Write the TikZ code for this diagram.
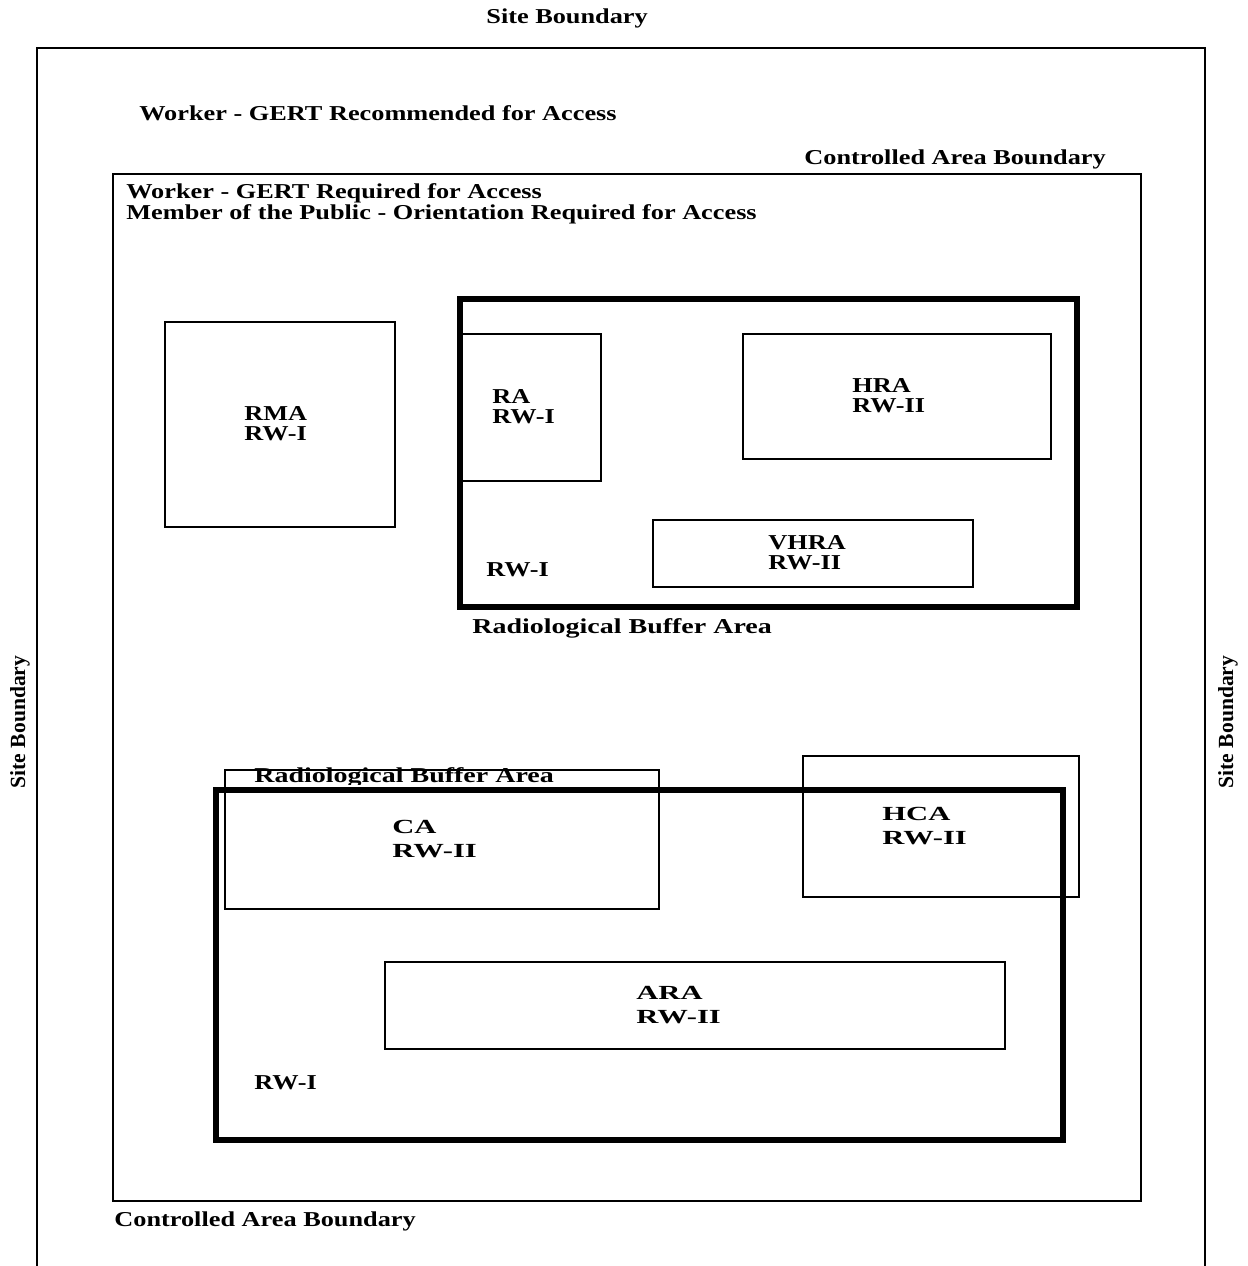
\documentclass[tikz,border=0pt]{standalone}
\usepackage{fontspec}
\setmainfont{Liberation Serif}
\newfontfamily\fwide[FakeStretch=1.24]{Liberation Serif}
\newfontfamily\fwider[FakeStretch=1.32]{Liberation Serif}
\newfontfamily\fbig[FakeStretch=1.53]{Liberation Serif}
\begin{document}
\begin{tikzpicture}[x=0.5pt,y=-0.5pt,
  thin box/.style={draw=black,line width=1pt},
  thick box/.style={draw=black,line width=2.6pt},
  freelabel/.style={inner sep=0pt,anchor=west,align=left,font=\fwide\bfseries\fontsize{10.6pt}{10.5pt}\selectfont},
  rbalabel/.style={inner sep=0pt,anchor=west,align=left,font=\fwider\bfseries\fontsize{10.6pt}{10.5pt}\selectfont},
  boxlabel/.style={inner sep=0pt,anchor=west,align=left,font=\fwide\bfseries\fontsize{10.6pt}{10pt}\selectfont},
  biglabel/.style={inner sep=0pt,anchor=west,align=left,font=\fbig\bfseries\fontsize{10pt}{12pt}\selectfont},
  sidelabel/.style={inner sep=0pt,anchor=center,rotate=90,font=\bfseries\fontsize{10.8pt}{10.5pt}\selectfont}]
\useasboundingbox[fill=white] (0,0) rectangle (1248,1266);
% site boundary (open at the bottom)
\coordinate (sbl) at (37,1266);
\coordinate (sbtl) at (37,48);
\coordinate (sbtr) at (1205,48);
\coordinate (sbr) at (1205,1266);
\draw[line width=1pt] (sbl) -- (sbtl) -- (sbtr) -- (sbr);
% controlled area boundary
\draw[thin box] (113,174) rectangle (1141,1201);
% upper area
\draw[thin box] (165,322) rectangle (395,527);
\draw[thin box] (462,334) rectangle (601,481);
\draw[thin box] (743,334) rectangle (1051,459);
\draw[thin box] (653,520) rectangle (973,587);
\draw[thick box] (460,299) rectangle (1077,607);
% lower area
\draw[thin box] (225,770) rectangle (659,909);
\draw[thin box] (803,756) rectangle (1079,897);
\draw[thin box] (385,962) rectangle (1005,1049);
\node[rbalabel] (rbalow) at (254,777) {Radiological Buffer Area};
\fill[white] (226,785) rectangle (658,789);
\draw[thick box] (216,790) rectangle (1063,1140);
% labels
\node[freelabel] (sbtop) at (486,18) {Site Boundary};
\node[sidelabel] (sbleft) at (20,722) {Site Boundary};
\node[sidelabel] (sbright) at (1228,722) {Site Boundary};
\node[freelabel] (rec) at (139,113) {Worker - GERT Recommended for Access};
\node[freelabel] (cabtop) at (804,159) {Controlled Area Boundary};
\node[freelabel] (req) at (126,204) {Worker - GERT Required for Access\\Member of the Public - Orientation Required for Access};
\node[boxlabel] (rma) at (244,424) {RMA\\RW-I};
\node[boxlabel] (ra) at (492,407) {RA\\RW-I};
\node[boxlabel] (hra) at (852,396) {HRA\\RW-II};
\node[boxlabel] (vhra) at (768,553) {VHRA\\RW-II};
\node[freelabel] (rwiup) at (486,570) {RW-I};
\node[rbalabel] (rbaup) at (472,628) {Radiological Buffer Area};
\node[biglabel] (ca) at (392,839) {CA\\RW-II};
\node[biglabel] (hca) at (882,826) {HCA\\RW-II};
\node[biglabel] (ara) at (636,1005) {ARA\\RW-II};
\node[freelabel] (rwilow) at (254,1083) {RW-I};
\node[freelabel] (cabbot) at (114,1221) {Controlled Area Boundary};
\end{tikzpicture}
\end{document}
